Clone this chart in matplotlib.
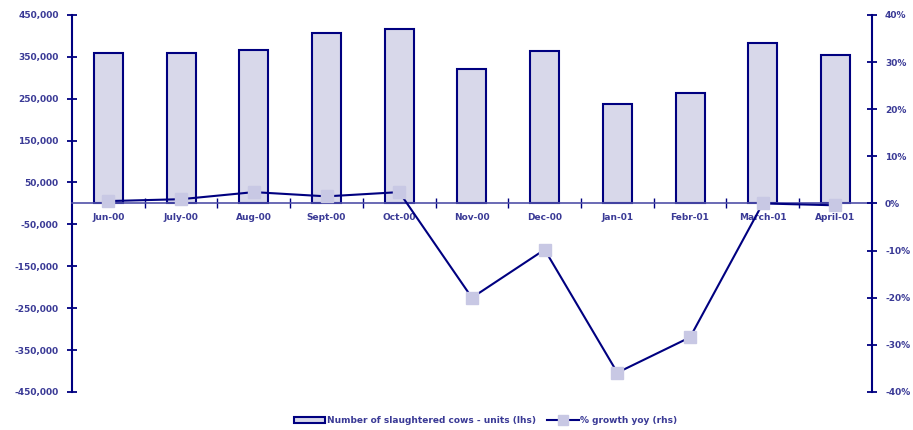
import numpy as np
import matplotlib.pyplot as plt
from matplotlib.lines import Line2D
from matplotlib.patches import Patch
from matplotlib.ticker import FuncFormatter

months = ['Jun-00', 'July-00', 'Aug-00', 'Sept-00', 'Oct-00', 'Nov-00',
          'Dec-00', 'Jan-01', 'Febr-01', 'March-01', 'April-01']
cows = [360000, 358000, 365000, 406000, 417000, 321000,
        364000, 237000, 264000, 383000, 354000]
growth = [0.5, 0.9, 2.4, 1.5, 2.4, -20.0, -9.8, -35.9, -28.4, 0.0, -0.4]

navy = '#000080'
txt = '#3a3a96'
fill = '#d8d8ea'
mark = '#c8c8e4'

plt.rcParams['font.family'] = ['DejaVu Sans']
plt.rcParams['font.weight'] = 'bold'

fig = plt.figure(figsize=(9.13, 4.30), dpi=100)
ax = fig.add_axes([0.0789, 0.0884, 0.876, 0.877])
x = np.arange(len(months))

ax.bar(x, cows, width=0.4, color=fill, edgecolor=navy, linewidth=1.5, zorder=2)
ax.set_xlim(-0.5, len(months) - 0.5)
ax.set_ylim(-450000, 450000)
ax.set_yticks(np.arange(-450000, 450001, 100000))
ax.yaxis.set_major_formatter(FuncFormatter(lambda v, p: f'{int(v):,}'))

# category axis drawn through zero
for s in ['top', 'right']:
    ax.spines[s].set_visible(False)
ax.spines['bottom'].set_position(('data', 0))
ax.spines['bottom'].set_color('#5050a8')
ax.spines['bottom'].set_linewidth(1.2)
ax.spines['left'].set_color(navy)
ax.spines['left'].set_linewidth(1.5)
ax.set_xticks(x)
ax.set_xticklabels(months)
ax.set_xticks(x[:-1] + 0.5, minor=True)
ax.tick_params(axis='x', which='major', length=0, pad=7, labelsize=6.5, labelcolor=txt)
ax.tick_params(axis='x', which='minor', length=7, direction='inout', color=navy, width=1)
ax.tick_params(axis='y', length=7, direction='inout', color=navy, width=1.3,
               labelsize=6.5, labelcolor=txt, pad=6)

ax2 = ax.twinx()
ax2.plot(x, growth, color=navy, lw=1.5, marker='s', ms=8.5,
         mfc=mark, mec=mark, zorder=3)
ax2.set_ylim(-40, 40)
ax2.set_yticks(np.arange(-40, 41, 10))
ax2.yaxis.set_major_formatter(FuncFormatter(lambda v, p: f'{int(v)}%'))
for s in ['top', 'left', 'bottom']:
    ax2.spines[s].set_visible(False)
ax2.spines['right'].set_color(navy)
ax2.spines['right'].set_linewidth(1.5)
ax2.tick_params(axis='y', length=7, direction='inout', color=navy, width=1.3,
                labelsize=6.5, labelcolor=txt, pad=6)

handles = [Patch(facecolor=fill, edgecolor=navy, linewidth=1.5),
           Line2D([], [], color=navy, lw=1.5, marker='s', ms=7, mfc=mark, mec=mark)]
labels = ['Number of slaughtered cows - units (lhs)', '% growth yoy (rhs)']
fig.legend(handles, labels, loc='center', bbox_to_anchor=(0.532, 0.022), ncol=2,
           frameon=False, fontsize=6.5, labelcolor=txt, handlelength=3.5,
           handleheight=0.6, handletextpad=0.2, columnspacing=1.2)

fig.savefig('out.png', dpi=100)
